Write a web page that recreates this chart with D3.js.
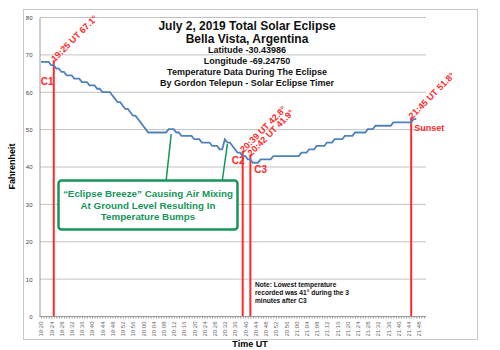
<!DOCTYPE html>
<html>
<head>
<meta charset="utf-8">
<script src="https://cdn.jsdelivr.net/npm/d3@7"></script>
<style>
	body { margin: 0; background: #fff; }
	svg { display: block; font-family: "Liberation Sans", Arial, sans-serif; }
</style>
</head>
<body>
<div id="chart"></div>
<script>
// one reading per minute, starting 19:20 UT
const startMinute = 19 * 60 + 20;
const temps = [
	68.0, 68.0, 68.0, 68.0, 67.1, 67.1, 66.2, 66.2, 65.3, 65.3,
	64.4, 64.4, 64.4, 63.5, 63.5, 63.5, 62.6, 62.6, 62.6, 61.7,
	61.7, 61.7, 60.8, 60.8, 59.9, 59.9, 59.9, 59.9, 59.0, 58.1,
	57.2, 57.2, 56.3, 55.4, 55.4, 54.5, 53.6, 53.6, 52.7, 51.8,
	50.9, 50.0, 49.1, 49.1, 49.1, 49.1, 49.1, 49.1, 49.1, 49.1,
	50.0, 50.0, 50.0, 49.1, 49.1, 48.2, 48.2, 48.2, 48.2, 48.2,
	47.3, 47.3, 47.3, 46.4, 46.4, 46.4, 46.4, 45.5, 45.5, 45.5,
	44.6, 44.6, 47.3, 46.4, 46.4, 45.5, 44.6, 43.7, 43.7, 42.8,
	42.8, 41.9, 41.9, 41.0, 41.0, 41.0, 41.9, 41.9, 41.9, 41.9,
	41.9, 42.8, 42.8, 42.8, 42.8, 42.8, 42.8, 42.8, 42.8, 42.8,
	42.8, 42.8, 43.7, 43.7, 43.7, 44.6, 44.6, 44.6, 45.5, 45.5,
	45.5, 45.5, 46.4, 46.4, 46.4, 47.3, 47.3, 47.3, 47.3, 48.2,
	48.2, 48.2, 48.2, 49.1, 49.1, 49.1, 49.1, 49.1, 50.0, 50.0,
	50.0, 50.9, 50.9, 50.9, 50.9, 50.9, 50.9, 50.9, 51.8, 51.8,
	51.8, 51.8, 51.8, 51.8, 51.8, 51.8, 52.7, 52.7
];

const yTicks = [0, 10, 20, 30, 40, 50, 60, 70, 80];
const axisMinutes = 151;          // 19:20 .. 21:50
const labelEvery = 4;             // tick labels every 4 minutes

const eventTimes = ["19:25", "20:39", "20:42", "21:45"];
const eventTemps = [67.1, 42.8, 41.9, 51.8];
const eventTags = ["C1", "C2", "C3", "Sunset"];

const titleLines = [
	"July 2, 2019 Total Solar Eclipse",
	"Bella Vista, Argentina",
	"Latitude -30.43986",
	"Longitude -69.24750",
	"Temperature Data During The Eclipse",
	"By Gordon Telepun - Solar Eclipse Timer"
];
const breezeLines = [
	"\u201cEclipse Breeze\u201d Causing Air Mixing",
	"At Ground Level Resulting In",
	"Temperature Bumps"
];
const breezeTimes = ["20:11", "20:33"];
const breezeTemps = [50.0, 47.3];
const noteLines = [
	"Note:  Lowest temperature",
	"recorded was 41\u00b0 during the 3",
	"minutes after C3"
];

const width = 500, height = 350;
const plot = { left: 41, right: 426, top: 17, bottom: 316 };
const red = "#ff2a2a", green = "#16965a", blue = "#4f81bd";

const toMin = s => { const p = s.split(":"); return +p[0] * 60 + +p[1] - startMinute; };
const fmt = m => { const t = m + startMinute; return Math.floor(t / 60) + ":" + String(t % 60).padStart(2, "0"); };

const svg = d3.select("#chart").append("svg")
	.attr("width", width)
	.attr("height", height);

svg.append("rect")
	.attr("x", 23.5).attr("y", 9.5)
	.attr("width", 454).attr("height", 330)
	.attr("fill", "#fff")
	.attr("stroke", "#c8c8c8");

const x = d3.scaleLinear().domain([0, axisMinutes - 1]).range([plot.left, plot.left + (axisMinutes - 1) * 2.553]);
const y = d3.scaleLinear().domain([0, 80]).range([plot.bottom, plot.top]);

// grid
svg.selectAll("line.grid")
	.data(yTicks.filter(d => d > 0))
	.enter().append("line")
	.attr("class", "grid")
	.attr("x1", plot.left - 1).attr("x2", plot.right)
	.attr("y1", d => y(d) + 0.5).attr("y2", d => y(d) + 0.5)
	.style("stroke", "#c2c2c2");

// y axis
const yAxis = d3.axisLeft(y).tickValues(yTicks).tickSize(0).tickPadding(7);
svg.append("g")
	.attr("transform", "translate(" + (plot.left - 1.5) + ",0.5)")
	.call(yAxis)
	.call(g => g.select(".domain").attr("stroke", "#9a9a9a"))
	.call(g => g.selectAll("text").attr("font-size", 6).attr("fill", "#444").attr("font-family", "Liberation Sans, Arial"));

// x axis
const xAxis = d3.axisBottom(x)
	.tickValues(d3.range(0, axisMinutes))
	.tickSize(2)
	.tickFormat(d => d % labelEvery === 0 ? fmt(d) : "");
svg.append("g")
	.attr("transform", "translate(0," + (plot.bottom + 0.5) + ")")
	.call(xAxis)
	.call(g => g.select(".domain").attr("stroke", "#9a9a9a").attr("d", "M" + (plot.left - 1.5) + ",0H" + plot.right))
	.call(g => g.selectAll(".tick line").attr("stroke", "#9a9a9a"))
	.call(g => g.selectAll("text")
		.attr("font-size", 6)
		.attr("fill", "#666")
		.attr("font-family", "Liberation Sans, Arial")
		.attr("text-anchor", "end")
		.attr("transform", "rotate(-90)")
		.attr("x", -5).attr("y", 0).attr("dy", "0.32em"));

// red event lines
const events = eventTimes.map((t, i) => ({ m: toMin(t), temp: eventTemps[i], tag: eventTags[i], time: t }));
svg.selectAll("line.event")
	.data(events)
	.enter().append("line")
	.attr("x1", d => x(d.m)).attr("x2", d => x(d.m))
	.attr("y1", d => y(d.temp) - 5).attr("y2", plot.bottom)
	.style("stroke", red)
	.style("stroke-width", 2);

// temperature line
const line = d3.line()
	.x((d, i) => x(i))
	.y(d => y(d));
svg.append("path")
	.attr("d", line(temps))
	.style("fill", "none")
	.style("stroke", blue)
	.style("stroke-width", 1.8);

// rotated event labels
svg.selectAll("text.evlabel")
	.data(events)
	.enter().append("text")
	.attr("transform", d => "translate(" + (x(d.m) + 1) + "," + (y(d.temp) - 3) + ") rotate(-45)")
	.attr("font-size", 9)
	.attr("font-weight", "bold")
	.attr("fill", red)
	.text(d => d.time + " UT " + d.temp.toFixed(1) + "\u00b0");

// contact tags
const tagPlace = { C1: [-13, 20], C2: [-11, 8], C3: [4, 14], Sunset: [3, 9] };
svg.selectAll("text.tag")
	.data(events)
	.enter().append("text")
	.attr("x", d => x(d.m) + tagPlace[d.tag][0])
	.attr("y", d => y(d.temp) + tagPlace[d.tag][1])
	.attr("font-size", d => d.tag === "Sunset" ? 9 : 10)
	.attr("font-weight", "bold")
	.attr("fill", red)
	.text(d => d.tag);

// title
const titleSize = [12, 12, 9, 9, 9, 9];
const titleY = [30, 43, 53, 64, 75, 86];
svg.selectAll("text.title")
	.data(titleLines)
	.enter().append("text")
	.attr("x", 247)
	.attr("y", (d, i) => titleY[i])
	.attr("text-anchor", "middle")
	.attr("font-size", (d, i) => titleSize[i])
	.attr("font-weight", "bold")
	.attr("fill", "#111")
	.text(d => d);

// breeze annotation
const breeze = breezeTimes.map((t, i) => ({ m: toMin(t), temp: breezeTemps[i] }));
svg.selectAll("line.pointer")
	.data(breeze)
	.enter().append("line")
	.attr("x1", d => x(d.m) - 5).attr("y1", 180)
	.attr("x2", d => x(d.m)).attr("y2", d => y(d.temp) + 5)
	.style("stroke", green)
	.style("stroke-width", 1.5);

svg.append("rect")
	.attr("x", 58.5).attr("y", 180.5)
	.attr("width", 179).attr("height", 49)
	.attr("rx", 3)
	.attr("fill", "#fff")
	.attr("stroke", green)
	.attr("stroke-width", 2.5);

svg.selectAll("text.breeze")
	.data(breezeLines)
	.enter().append("text")
	.attr("x", 148)
	.attr("y", (d, i) => 197 + i * 11.5)
	.attr("text-anchor", "middle")
	.attr("font-size", 9.8)
	.attr("font-weight", "bold")
	.attr("fill", green)
	.text(d => d);

// note
svg.selectAll("text.note")
	.data(noteLines)
	.enter().append("text")
	.attr("x", 255)
	.attr("y", (d, i) => 287 + i * 8.2)
	.attr("font-size", 6.6)
	.attr("font-weight", "bold")
	.attr("fill", "#111")
	.text(d => d);

// axis titles
svg.append("text")
	.attr("transform", "translate(15," + ((plot.top + plot.bottom) / 2) + ") rotate(-90)")
	.attr("text-anchor", "middle")
	.attr("font-size", 9)
	.attr("font-weight", "bold")
	.text("Fahrenheit");

svg.append("text")
	.attr("x", 250).attr("y", 347)
	.attr("text-anchor", "middle")
	.attr("font-size", 9)
	.attr("font-weight", "bold")
	.text("Time UT");
</script>
</body>
</html>
